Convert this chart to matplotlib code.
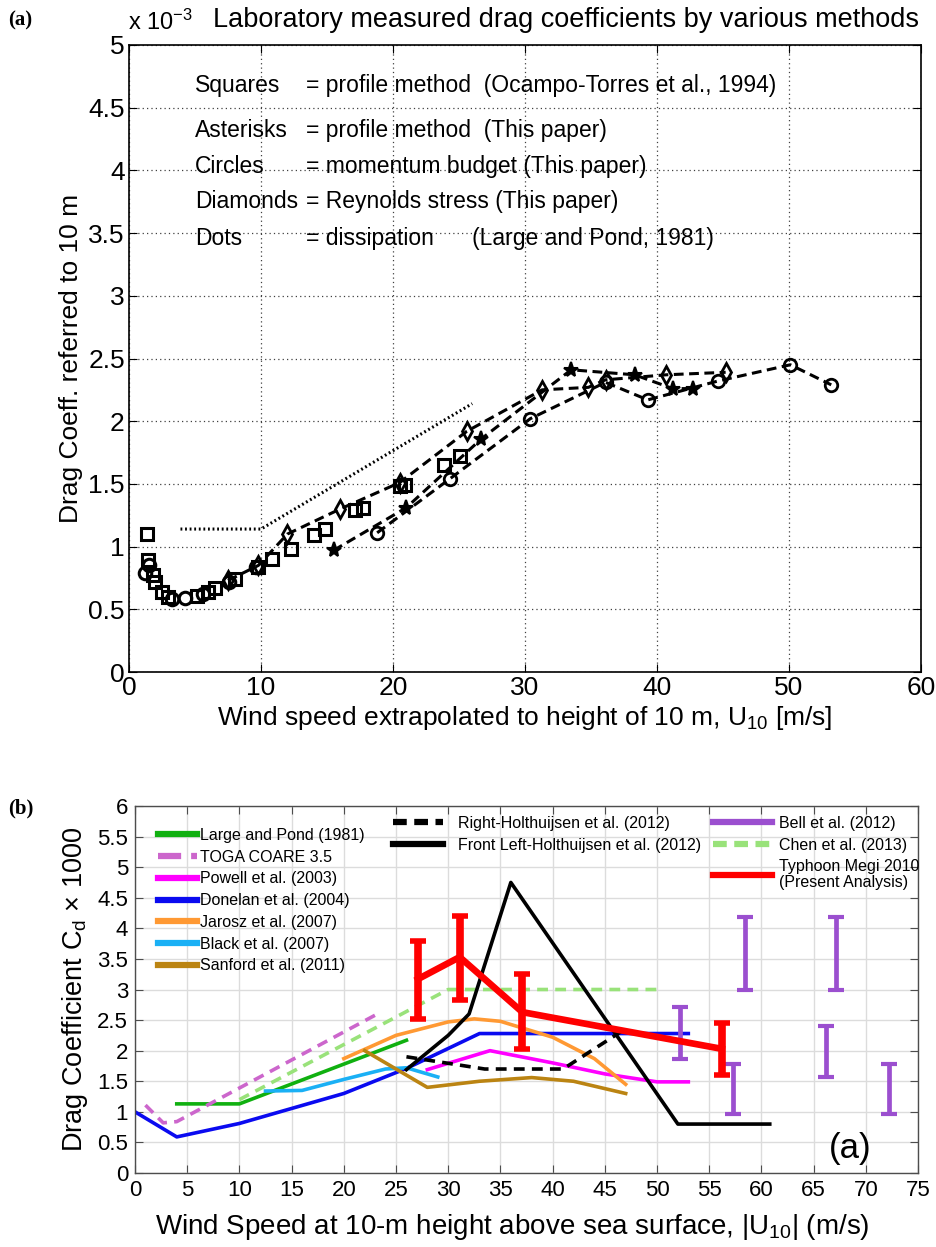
import matplotlib
matplotlib.use("Agg")
import matplotlib.pyplot as plt
from matplotlib.lines import Line2D
import numpy as np

plt.rcParams['font.family'] = ['Liberation Sans', 'DejaVu Sans']
plt.rcParams['mathtext.fontset'] = 'custom'
plt.rcParams['mathtext.rm'] = 'Liberation Sans'
plt.rcParams['mathtext.it'] = 'Liberation Sans:italic'

# ---------------- Panel (a) data (Cd x 10^-3) ----------------
sq_u = [1.34, 1.46, 1.84, 1.97, 2.47, 2.98, 5.13, 6.0, 6.5, 8.0, 9.8, 10.8, 12.3,
        14.0, 14.85, 17.1, 17.75, 20.5, 20.9, 23.9, 25.1]
sq_cd = [1.10, 0.89, 0.77, 0.72, 0.64, 0.60, 0.61, 0.64, 0.67, 0.74, 0.84, 0.905, 0.98,
         1.09, 1.14, 1.29, 1.31, 1.48, 1.49, 1.65, 1.72]

ast_u = [15.5, 21.0, 26.7, 33.5, 38.3, 41.2, 42.7]
ast_cd = [0.97, 1.31, 1.86, 2.41, 2.37, 2.26, 2.26]

circ_low_u = [1.21, 1.5, 3.23, 4.24, 5.6, 7.6, 9.6]
circ_low_cd = [0.79, 0.85, 0.585, 0.59, 0.62, 0.72, 0.84]
circ_u = [18.8, 24.3, 30.4, 36.1, 39.3, 44.6, 50.1, 53.2]
circ_cd = [1.11, 1.54, 2.02, 2.31, 2.17, 2.32, 2.45, 2.29]

dia_u = [7.5, 9.8, 12.0, 16.0, 20.5, 25.6, 31.3, 34.8, 36.1, 40.7, 45.2]
dia_cd = [0.73, 0.85, 1.10, 1.30, 1.51, 1.92, 2.25, 2.27, 2.33, 2.37, 2.39]

lp_u = [3.9, 10.0, 26.0]
lp_cd = [1.14, 1.14, 2.14]

legend_a_names = ["Squares", "Asterisks", "Circles", "Diamonds", "Dots"]
legend_a_desc = ["= profile method  (Ocampo-Torres et al., 1994)",
                 "= profile method  (This paper)",
                 "= momentum budget (This paper)",
                 "= Reynolds stress (This paper)",
                 "= dissipation      (Large and Pond, 1981)"]

# ---------------- Panel (b) data (Cd x 1000) ----------------
large_pond_u = [4.0, 10.0, 26.0]
large_pond_cd = [1.13, 1.13, 2.17]
toga_u = [1.0, 2.7, 4.0, 23.0]
toga_cd = [1.11, 0.82, 0.84, 2.58]
powell_u = [28.0, 34.0, 40.0, 45.0, 50.0, 53.0]
powell_cd = [1.69, 2.0, 1.8, 1.62, 1.49, 1.49]
donelan_u = [0.0, 4.0, 10.0, 20.0, 26.0, 33.0, 53.0]
donelan_cd = [1.0, 0.59, 0.81, 1.30, 1.71, 2.28, 2.28]
jarosz_u = [20.0, 25.0, 30.0, 32.5, 35.0, 40.0, 44.0, 47.0]
jarosz_cd = [1.87, 2.25, 2.47, 2.52, 2.48, 2.22, 1.87, 1.45]
black_u = [12.5, 16.0, 20.0, 24.0, 26.0, 29.0]
black_cd = [1.34, 1.35, 1.53, 1.70, 1.72, 1.57]
sanford_u = [22.0, 28.0, 33.0, 38.0, 42.0, 47.0]
sanford_cd = [2.0, 1.40, 1.50, 1.56, 1.50, 1.30]
right_h_u = [26.0, 33.5, 41.0, 47.0]
right_h_cd = [1.90, 1.70, 1.70, 2.36]
front_h_u = [26.0, 30.0, 32.0, 36.0, 52.0, 60.8]
front_h_cd = [1.69, 2.25, 2.60, 4.75, 0.80, 0.80]
chen_u = [10.0, 30.0, 50.0]
chen_cd = [1.20, 3.0, 3.0]
megi_u = [27.1, 31.1, 37.1, 56.2]
megi_cd = [3.17, 3.53, 2.63, 2.03]
megi_lo = [2.52, 2.83, 2.03, 1.60]
megi_hi = [3.80, 4.20, 3.25, 2.45]
bell_u = [52.2, 57.3, 58.4, 66.2, 67.1, 72.2]
bell_lo = [1.87, 0.97, 2.99, 1.57, 2.99, 0.97]
bell_hi = [2.71, 1.79, 4.18, 2.41, 4.18, 1.79]

fig = plt.figure(figsize=(9.37, 12.47), dpi=100)

# ================= Panel (a) =================
axa = fig.add_axes([129/937, 1-672/1247, 792/937, 627/1247])
axa.set_xlim(0, 60)
axa.set_ylim(0, 5)
axa.set_xticks(np.arange(0, 61, 10))
axa.set_yticks(np.arange(0, 5.01, 0.5))
axa.set_yticklabels(["%g" % v for v in np.arange(0, 5.01, 0.5)])
axa.grid(True, linestyle=(0, (1, 2.5)), color='0.25', linewidth=0.9)
axa.tick_params(direction='in', top=True, right=True, labelsize=19, length=6, pad=3)
for s in axa.spines.values():
    s.set_linewidth(1.2)

dash = (0, (3.2, 1.8))
axa.plot(lp_u, lp_cd, linestyle=(0, (0.6, 0.9)), color='k', lw=2.2)
axa.plot(sq_u, sq_cd, linestyle='none', marker='s', ms=9, mfc='none', mec='k', mew=2.2)
axa.plot(circ_low_u, circ_low_cd, linestyle='none', marker='o', ms=9, mfc='none', mec='k', mew=2.2)
axa.plot(dia_u, dia_cd, linestyle=dash, color='k', lw=2.2, marker='d', ms=9, mfc='none', mec='k', mew=2)
axa.plot(circ_u, circ_cd, linestyle=dash, color='k', lw=2.2, marker='o', ms=9, mfc='none', mec='k', mew=2)
axa.plot(ast_u, ast_cd, linestyle=dash, color='k', lw=2.2, marker='*', ms=11, mfc='k', mec='k', mew=1.5)

ya = [4.68, 4.32, 4.03, 3.75, 3.46]
for name, desc, y in zip(legend_a_names, legend_a_desc, ya):
    axa.text(5.0, y, name, fontsize=16.5, va='center', ha='left')
    axa.text(13.4, y, desc, fontsize=16.5, va='center', ha='left')

fig.text(566/937, 1-20/1247, "Laboratory measured drag coefficients by various methods",
         ha='center', va='center', fontsize=19.5)
fig.text(128/937, 1-22/1247, r"x 10$^{-3}$", ha='left', va='center', fontsize=17)
axa.set_xlabel(r"Wind speed extrapolated to height of 10 m, U$_{10}$ [m/s]", fontsize=19, labelpad=3)
axa.set_ylabel("Drag Coeff. referred to 10 m", fontsize=19, labelpad=4)

fig.text(8/937, 1-20/1247, "(a)", fontsize=15, fontweight='bold', family='Liberation Serif', va='center')
fig.text(8/937, 1-808/1247, "(b)", fontsize=15, fontweight='bold', family='Liberation Serif', va='center')

# ================= Panel (b) =================
axb = fig.add_axes([135/937, 1-1173/1247, 783/937, 367/1247])
axb.set_xlim(0, 75)
axb.set_ylim(0, 6)
axb.set_xticks(np.arange(0, 76, 5))
axb.set_yticks(np.arange(0, 6.01, 0.5))
axb.set_yticklabels(["%g" % v for v in np.arange(0, 6.01, 0.5)])
axb.grid(True, color='#dcdcdc', linewidth=1.0)
axb.set_axisbelow(True)
axb.tick_params(direction='in', top=True, right=True, labelsize=16, length=6, pad=5, color='0.3')
for s in axb.spines.values():
    s.set_linewidth(1.0)
    s.set_color('0.3')

lw = 2.6
dsh = (0, (3, 2))
h_lp, = axb.plot(large_pond_u, large_pond_cd, color='#10b010', lw=lw)
h_toga, = axb.plot(toga_u, toga_cd, color='#cc66cc', lw=lw, linestyle=dsh)
h_chen, = axb.plot(chen_u, chen_cd, color='#99e27a', lw=lw, linestyle=dsh)
h_pow, = axb.plot(powell_u, powell_cd, color='#ff00ff', lw=lw)
h_don, = axb.plot(donelan_u, donelan_cd, color='#0a0af0', lw=lw)
h_jar, = axb.plot(jarosz_u, jarosz_cd, color='#ff9933', lw=lw)
h_bla, = axb.plot(black_u, black_cd, color='#1ab0f5', lw=lw)
h_san, = axb.plot(sanford_u, sanford_cd, color='#bb8412', lw=lw)
h_rh, = axb.plot(right_h_u, right_h_cd, color='k', lw=lw, linestyle=dsh)
h_fh, = axb.plot(front_h_u, front_h_cd, color='k', lw=lw)

bell_mid = [(a + b) / 2 for a, b in zip(bell_lo, bell_hi)]
bell_err = [[m - a for m, a in zip(bell_mid, bell_lo)], [b - m for m, b in zip(bell_mid, bell_hi)]]
axb.errorbar(bell_u, bell_mid, yerr=bell_err, fmt='none', ecolor='#9b4fcf', elinewidth=3.4,
             capsize=5.5, capthick=3)
megi_err = [[m - a for m, a in zip(megi_cd, megi_lo)], [b - m for m, b in zip(megi_cd, megi_hi)]]
axb.plot(megi_u, megi_cd, color='#ff0000', lw=4.8)
axb.errorbar(megi_u, megi_cd, yerr=megi_err, fmt='none', ecolor='#ff0000', elinewidth=5.5,
             capsize=6, capthick=4)

axb.text(68.5, 0.4, "(a)", fontsize=25, ha='center', va='center')

leg_fs = 11.5
leg_kw = dict(frameon=False, fontsize=leg_fs, borderaxespad=0, borderpad=0, labelspacing=0.42)
lh = [Line2D([], [], color=h.get_color(), lw=4.5, linestyle=h.get_linestyle()) for h in
      [h_lp, h_toga, h_pow, h_don, h_jar, h_bla, h_san]]
l1 = axb.legend(lh, ['Large and Pond (1981)', 'TOGA COARE 3.5', 'Powell et al. (2003)',
                     'Donelan et al. (2004)', 'Jarosz et al. (2007)', 'Black et al. (2007)',
                     'Sanford et al. (2011)'],
                loc='upper left', bbox_to_anchor=(23/783, 1-22/367),
                handlelength=2.45, handletextpad=0.2, **leg_kw)
axb.add_artist(l1)
lh2 = [Line2D([], [], color='k', lw=4.5, linestyle=(0, (2.2, 1.2))),
       Line2D([], [], color='k', lw=4.5)]
l2 = axb.legend(lh2, ['Right-Holthuijsen et al. (2012)', 'Front Left-Holthuijsen et al. (2012)'],
                loc='upper left', bbox_to_anchor=(258/783, 1-10/367),
                handlelength=3.1, handletextpad=1.0, **leg_kw)
axb.add_artist(l2)
lh3 = [Line2D([], [], color='#9b4fcf', lw=4.5),
       Line2D([], [], color='#99e27a', lw=4.5, linestyle=(0, (2.2, 1.2))),
       Line2D([], [], color='#ff0000', lw=4.5)]
l3 = axb.legend(lh3, ['Bell et al. (2012)', 'Chen et al. (2013)', 'Typhoon Megi 2010\n(Present Analysis)'],
                loc='upper left', bbox_to_anchor=(578/783, 1-10/367),
                handlelength=3.7, handletextpad=0.45, **leg_kw)
for t in l3.get_texts():
    t.set_linespacing(1.05)

axb.set_xlabel(r"Wind Speed at 10-m height above sea surface, |U$_{10}$| (m/s)", fontsize=20, labelpad=4)
axb.xaxis.set_label_coords(0.482, -0.105)
axb.set_ylabel(r"Drag Coefficient C$_\mathrm{d}$ $\times$ 1000", fontsize=19.5, labelpad=5)

fig.savefig("out.png", dpi=100)
